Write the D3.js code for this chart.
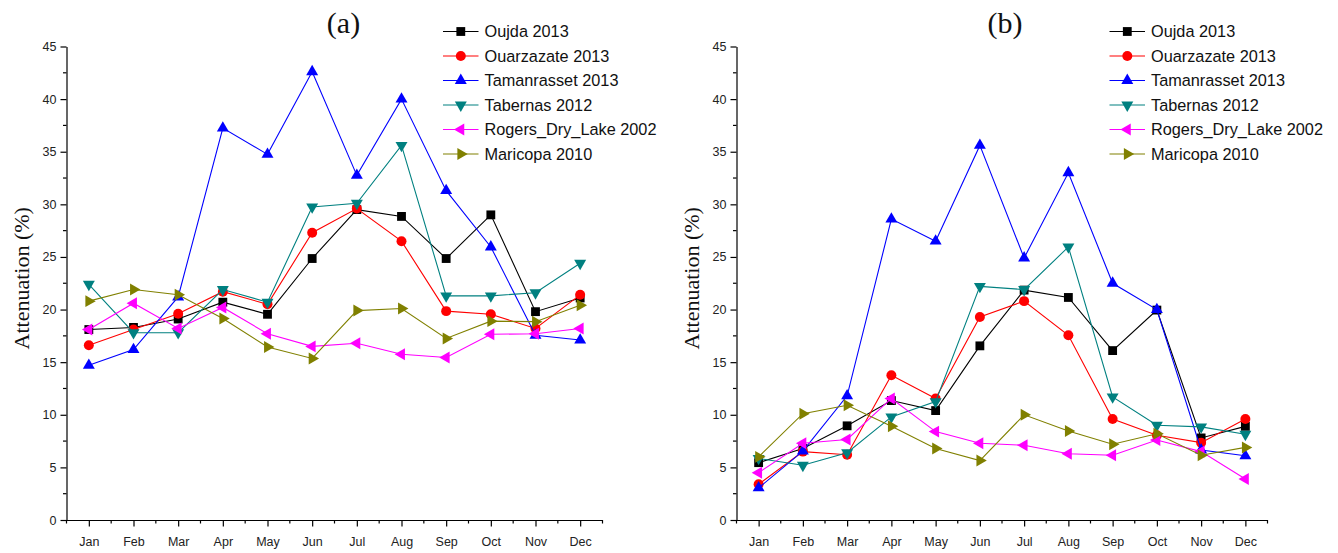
<!DOCTYPE html>
<html>
<head>
<meta charset="utf-8">
<script src="https://cdn.jsdelivr.net/npm/d3@7"></script>
<style>
    body { margin: 0; background: #fff; }
    .axis text { font-family: "Liberation Sans", Arial, sans-serif; font-size: 12.5px; fill: #222; }
    .axis path, .axis line { stroke: #000; stroke-width: 1.2; }
</style>
</head>
<body>
<div class="canvas"></div>
<script>
// data
const months = ['Jan', 'Feb', 'Mar', 'Apr', 'May', 'Jun', 'Jul', 'Aug', 'Sep', 'Oct', 'Nov', 'Dec'];
const seriesNames = ['Oujda 2013', 'Ouarzazate 2013', 'Tamanrasset 2013', 'Tabernas 2012', 'Rogers_Dry_Lake 2002', 'Maricopa 2010'];
const yTicks = [0, 5, 10, 15, 20, 25, 30, 35, 40, 45];

// panel (a)
const oujdaA = [18.1, 18.3, 19.1, 20.7, 19.55, 24.85, 29.5, 28.85, 24.85, 29.0, 19.8, 21.1];
const ouarzazateA = [16.6, 18.1, 19.6, 21.7, 20.5, 27.3, 29.6, 26.5, 19.85, 19.55, 18.2, 21.4];
const tamanrassetA = [14.7, 16.2, 21.2, 37.25, 34.75, 42.6, 32.75, 40.0, 31.3, 25.95, 17.55, 17.1];
const tabernasA = [22.4, 17.8, 17.8, 21.9, 20.7, 29.75, 30.1, 35.6, 21.3, 21.3, 21.6, 24.4];
const rogersA = [18.1, 20.6, 18.2, 20.2, 17.7, 16.5, 16.8, 15.75, 15.45, 17.65, 17.7, 18.2];
const maricopaA = [20.8, 21.9, 21.4, 19.15, 16.45, 15.35, 19.9, 20.1, 17.25, 18.9, 18.85, 20.4];

// panel (b)
const oujdaB = [5.45, 6.8, 8.95, 11.35, 10.4, 16.55, 21.85, 21.15, 16.1, 19.95, 7.8, 8.9];
const ouarzazateB = [3.4, 6.5, 6.2, 13.75, 11.55, 19.3, 20.8, 17.55, 9.6, 8.05, 7.35, 9.6];
const tamanrassetB = [3.05, 6.55, 11.8, 28.6, 26.5, 35.6, 24.9, 33.0, 22.5, 20.0, 6.65, 6.1];
const tabernasB = [5.85, 5.2, 6.4, 9.8, 11.25, 22.2, 21.9, 25.95, 11.7, 9.0, 8.85, 8.15];
const rogersB = [4.5, 7.3, 7.65, 11.55, 8.4, 7.3, 7.1, 6.3, 6.15, 7.6, 6.5, 3.9];
const maricopaB = [6.0, 10.1, 10.9, 8.9, 6.8, 5.65, 10.0, 8.45, 7.2, 8.2, 6.15, 6.9];

const colors = ['#000000', '#ff0000', '#0000ff', '#008080', '#ff00ff', '#808000'];
// symbol type + rotation for each series
const shapes = [
    { type: d3.symbolSquare, size: 78, rot: 0 },
    { type: d3.symbolCircle, size: 78, rot: 0 },
    { type: d3.symbolTriangle, size: 62, rot: 0 },
    { type: d3.symbolTriangle, size: 62, rot: 180 },
    { type: d3.symbolTriangle, size: 62, rot: -90 },
    { type: d3.symbolTriangle, size: 62, rot: 90 }
];

const svg = d3.select('.canvas')
    .append('svg')
    .attr('width', 1338)
    .attr('height', 553);

const plotTop = 46.5, plotBottom = 520;

const panels = [
    { label: '(a)', left: 66.5, right: 602.5, titleX: 343.5, legendX: 443, series: [oujdaA, ouarzazateA, tamanrassetA, tabernasA, rogersA, maricopaA] },
    { label: '(b)', left: 736.5, right: 1267.5, titleX: 1005, legendX: 1109.5, series: [oujdaB, ouarzazateB, tamanrassetB, tabernasB, rogersB, maricopaB] }
];

const y = d3.scaleLinear()
    .domain([0, 45])
    .range([plotBottom, plotTop]);

panels.forEach(p => {

    const x = d3.scalePoint()
        .domain(months)
        .range([p.left, p.right])
        .padding(0.5);

    const step = x.step();

    // minor ticks
    const minorY = d3.range(0, 45.1, 2.5).filter(v => v % 5 !== 0);
    svg.append('g').selectAll('line')
        .data(minorY)
        .enter().append('line')
        .attr('x1', p.left - 3.5).attr('x2', p.left)
        .attr('y1', d => y(d)).attr('y2', d => y(d))
        .attr('stroke', '#000').attr('stroke-width', 1.2);

    svg.append('g').selectAll('line')
        .data(d3.range(0, months.length + 1))
        .enter().append('line')
        .attr('x1', d => p.left + d * step).attr('x2', d => p.left + d * step)
        .attr('y1', plotBottom).attr('y2', plotBottom + 3.5)
        .attr('stroke', '#000').attr('stroke-width', 1.2);

    // axes
    const xAxis = d3.axisBottom(x).tickSize(6.5).tickSizeOuter(0).tickPadding(11);
    const yAxis = d3.axisLeft(y).tickValues(yTicks).tickSize(6).tickSizeOuter(0).tickPadding(4);

    svg.append('g')
        .attr('class', 'axis')
        .attr('transform', `translate(0, ${plotBottom})`)
        .call(xAxis);

    svg.append('g')
        .attr('class', 'axis')
        .attr('transform', `translate(${p.left}, 0)`)
        .call(yAxis);

    svg.append('text')
        .attr('transform', `translate(${p.left - 37.5}, ${(plotTop + plotBottom) / 2 - 5}) rotate(-90)`)
        .attr('text-anchor', 'middle')
        .attr('font-family', '"Liberation Serif", "Times New Roman", serif')
        .attr('font-size', 22)
        .attr('fill', '#111')
        .text('Attenuation (%)');

    svg.append('text')
        .attr('x', p.titleX)
        .attr('y', 33)
        .attr('text-anchor', 'middle')
        .attr('font-family', '"Liberation Serif", "Times New Roman", serif')
        .attr('font-size', 30)
        .attr('fill', '#111')
        .text(p.label);

    // lines and markers
    const line = d3.line()
        .x((d, i) => x(months[i]))
        .y(d => y(d));

    p.series.forEach((values, s) => {
        const g = svg.append('g');
        g.append('path')
            .datum(values)
            .attr('d', line)
            .attr('fill', 'none')
            .attr('stroke', colors[s])
            .attr('stroke-width', 1.1);

        g.selectAll('path.marker')
            .data(values)
            .enter().append('path')
            .attr('class', 'marker')
            .attr('d', d3.symbol().type(shapes[s].type).size(shapes[s].size))
            .attr('transform', (d, i) => `translate(${x(months[i])}, ${y(d)}) rotate(${shapes[s].rot})`)
            .attr('fill', colors[s]);
    });

    // legend
    const legend = svg.append('g')
        .attr('transform', `translate(${p.legendX}, 0)`);

    seriesNames.forEach((name, s) => {
        const ly = 31.5 + s * 24.5;
        legend.append('line')
            .attr('x1', 0).attr('x2', 35.5)
            .attr('y1', ly).attr('y2', ly)
            .attr('stroke', colors[s]).attr('stroke-width', 1.2);
        legend.append('path')
            .attr('d', d3.symbol().type(shapes[s].type).size(shapes[s].size))
            .attr('transform', `translate(17.8, ${ly}) rotate(${shapes[s].rot})`)
            .attr('fill', colors[s]);
        legend.append('text')
            .attr('x', 41.5)
            .attr('y', ly + 5.8)
            .attr('font-family', '"Liberation Sans", Arial, sans-serif')
            .attr('font-size', 16.3)
            .attr('fill', '#111')
            .text(name);
    });
});
</script>
</body>
</html>
